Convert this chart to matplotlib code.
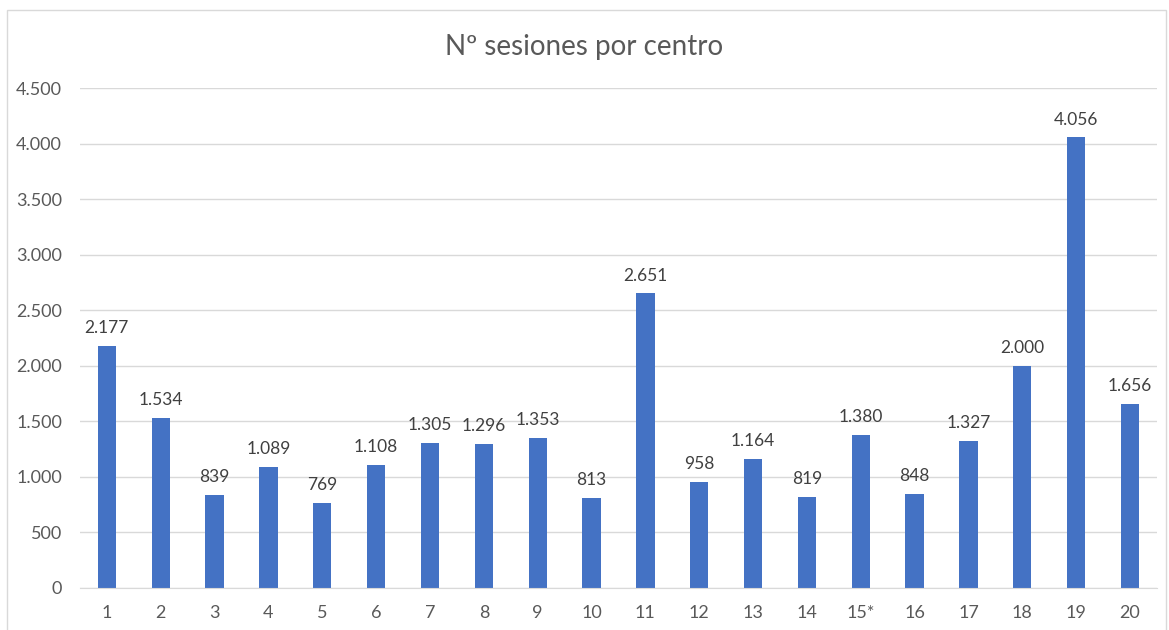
"""Nº sesiones por centro - gráfico de barras."""

import matplotlib.pyplot as plt
from matplotlib.patches import Rectangle
from matplotlib.ticker import FuncFormatter

centros = ["1", "2", "3", "4", "5", "6", "7", "8", "9", "10",
           "11", "12", "13", "14", "15*", "16", "17", "18", "19", "20"]
sesiones = [2177, 1534, 839, 1089, 769, 1108, 1305, 1296, 1353, 813,
            2651, 958, 1164, 819, 1380, 848, 1327, 2000, 4056, 1656]
y_ticks = [0, 500, 1000, 1500, 2000, 2500, 3000, 3500, 4000, 4500]

TEXT = "#595959"
BAR = "#4472C4"
GRID = "#D9D9D9"


def miles(v, _=None):
    return f"{int(v):,}".replace(",", ".")


plt.rcParams["font.family"] = ["Lato", "DejaVu Sans"]

fig = plt.figure(figsize=(11.69, 6.30), dpi=100)
ax = fig.add_axes([0.0684, 0.0667, 0.9213, 0.7936])

x = range(len(centros))
ax.bar(x, sesiones, width=0.34, color=BAR, zorder=3)

for i, v in enumerate(sesiones):
    ax.annotate(miles(v), (i, v), xytext=(0, 7), textcoords="offset points",
                ha="center", va="bottom", fontsize=12.5, color="#404040")

ax.set_xlim(-0.5, len(centros) - 0.5)
ax.set_ylim(0, 4500)
ax.set_yticks(y_ticks)
ax.yaxis.set_major_formatter(FuncFormatter(miles))
ax.set_xticks(list(x))
ax.set_xticklabels(centros)

ax.grid(axis="y", color=GRID, linewidth=1, zorder=0)
for s in ["top", "right", "left"]:
    ax.spines[s].set_visible(False)
ax.spines["bottom"].set_color(GRID)
ax.spines["bottom"].set_zorder(4)
ax.tick_params(axis="both", length=0, labelsize=13, colors=TEXT)
ax.tick_params(axis="y", pad=13)
ax.tick_params(axis="x", pad=12)

fig.text(0.5, 0.925, "Nº sesiones por centro", ha="center", va="center",
         fontsize=20, color=TEXT)

# marco del gráfico
fig.patches.append(Rectangle((7 / 1169, -0.05), 1159 / 1169, 1.05 - 10 / 630,
                             transform=fig.transFigure, fill=False,
                             edgecolor=GRID, linewidth=1))

fig.savefig("out.png", dpi=100)
